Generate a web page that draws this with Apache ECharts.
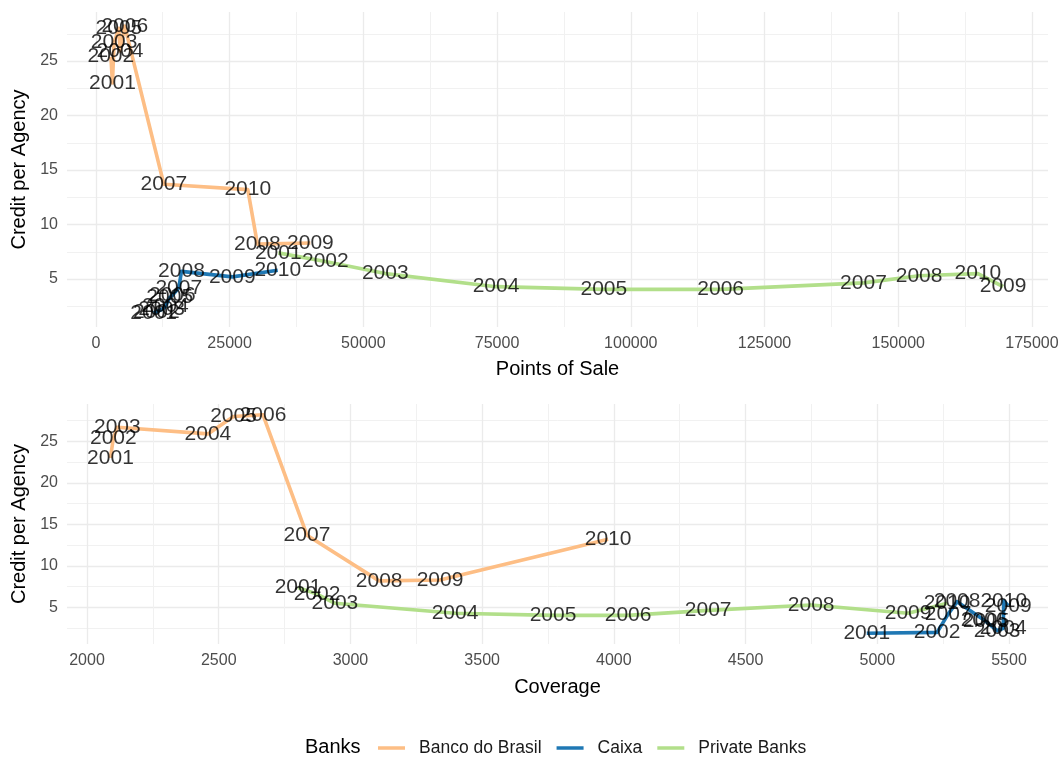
<!DOCTYPE html>
<html>
<head>
<meta charset="utf-8">
<script src="https://cdn.jsdelivr.net/npm/echarts@6/dist/echarts.min.js"></script>
<style>
  html, body { margin: 0; padding: 0; background: #ffffff; }
  #chart { width: 1063px; height: 762px; }
</style>
</head>
<body>
<div id="chart"></div>
<script>
// Yearly observations per bank group
const years = [2001, 2002, 2003, 2004, 2005, 2006, 2007, 2008, 2009, 2010];

const bbPoints   = [3100, 2800, 3400, 4500, 4300, 5400, 12700, 30200, 40100, 28400];
const bbCoverage = [2089, 2100, 2115, 2459, 2556, 2668, 2835, 3109, 3340, 3978];
const bbCredit   = [23.0, 25.4, 26.7, 25.9, 28.0, 28.2, 13.7, 8.2, 8.3, 13.2];

const caixaPoints   = [10800, 11300, 12300, 13000, 13800, 14300, 15500, 16000, 25500, 34000];
const caixaCoverage = [4960, 5227, 5455, 5478, 5413, 5405, 5269, 5303, 5497, 5480];
const caixaCredit   = [1.9, 2.0, 2.2, 2.5, 3.3, 3.5, 4.2, 5.7, 5.2, 5.8];

const privPoints   = [34100, 42900, 54100, 74800, 94960, 116800, 143500, 153900, 169600, 164900];
const privCoverage = [2801, 2873, 2941, 3397, 3769, 4054, 4358, 4749, 5117, 5265];
const privCredit   = [7.4, 6.6, 5.5, 4.3, 4.05, 4.05, 4.65, 5.3, 4.3, 5.5];

// Axis ticks
const pointsTicks      = [0, 25000, 50000, 75000, 100000, 125000, 150000, 175000];
const pointsMinorTicks = [12500, 37500, 62500, 87500, 112500, 137500, 162500];
const coverageTicks      = [2000, 2500, 3000, 3500, 4000, 4500, 5000, 5500];
const coverageMinorTicks = [2250, 2750, 3250, 3750, 4250, 4750, 5250];
const creditTicks      = [5, 10, 15, 20, 25];
const creditMinorTicks = [2.5, 7.5, 12.5, 17.5, 22.5, 27.5];

const bankNames = ['Banco do Brasil', 'Caixa', 'Private Banks'];
const bankColors = ['#FDBE85', '#1F78B4', '#B2DF8A'];

const FONT = 'Liberation Sans, Arial, sans-serif';

// connect observations in order of the x variable
function lineData(xs, ys) {
  return xs.map((x, i) => [x, ys[i]]).sort((a, b) => a[0] - b[0]);
}
function labelData(xs, ys) {
  return xs.map((x, i) => [x, ys[i], years[i]]);
}

const panels = [
  { x: [bbPoints, caixaPoints, privPoints], axis: 0 },
  { x: [bbCoverage, caixaCoverage, privCoverage], axis: 2 }
];
const credits = [bbCredit, caixaCredit, privCredit];

const series = [];
panels.forEach(p => {
  for (let k = 0; k < 3; k++) {
    series.push({
      type: 'line',
      name: bankNames[k],
      xAxisIndex: p.axis,
      yAxisIndex: p.axis,
      data: lineData(p.x[k], credits[k]),
      showSymbol: false,
      symbol: 'none',
      color: bankColors[k],
      lineStyle: { width: 3.6, color: bankColors[k], cap: 'butt', join: 'round' },
      z: 2,
      silent: true,
      animation: false
    });
  }
});
panels.forEach(p => {
  for (let k = 0; k < 3; k++) {
    series.push({
      type: 'scatter',
      name: bankNames[k] + ' years',
      xAxisIndex: p.axis,
      yAxisIndex: p.axis,
      data: labelData(p.x[k], credits[k]),
      symbolSize: 1,
      itemStyle: { color: 'rgba(0,0,0,0)' },
      label: {
        show: true,
        position: 'inside',
        formatter: params => String(params.value[2]),
        color: '#000000',
        fontSize: 21,
        fontFamily: FONT
      },
      z: 10,
      silent: true,
      animation: false
    });
  }
});

const plainNumber = v => String(v);

function mainX(grid, min, max, ticks, name, gap) {
  return {
    type: 'value', gridIndex: grid, min: min, max: max, position: 'bottom',
    name: name, nameLocation: 'middle', nameGap: gap,
    nameTextStyle: { fontSize: 20, color: '#000000', fontFamily: FONT },
    axisLine: { show: false },
    axisTick: { show: false, customValues: ticks },
    axisLabel: { customValues: ticks, formatter: plainNumber, color: '#4D4D4D', fontSize: 16, fontFamily: FONT, margin: 9 },
    splitLine: { show: true, lineStyle: { color: '#EBEBEB', width: 1.3 } }
  };
}
function minorX(grid, min, max, ticks) {
  return {
    type: 'value', gridIndex: grid, min: min, max: max, position: 'bottom',
    axisLine: { show: false },
    axisTick: { show: false, customValues: ticks },
    axisLabel: { show: false, customValues: ticks },
    splitLine: { show: true, lineStyle: { color: '#F1F1F1', width: 1 } }
  };
}
function mainY(grid) {
  return {
    type: 'value', gridIndex: grid, min: 0.6, max: 29.5, position: 'left',
    name: 'Credit per Agency', nameLocation: 'middle', nameGap: 34,
    nameTextStyle: { fontSize: 20, color: '#000000', fontFamily: FONT },
    axisLine: { show: false },
    axisTick: { show: false, customValues: creditTicks },
    axisLabel: { customValues: creditTicks, formatter: plainNumber, color: '#4D4D4D', fontSize: 16, fontFamily: FONT, margin: 9 },
    splitLine: { show: true, lineStyle: { color: '#EBEBEB', width: 1.3 } }
  };
}
function minorY(grid) {
  return {
    type: 'value', gridIndex: grid, min: 0.6, max: 29.5, position: 'left',
    axisLine: { show: false },
    axisTick: { show: false, customValues: creditMinorTicks },
    axisLabel: { show: false, customValues: creditMinorTicks },
    splitLine: { show: true, lineStyle: { color: '#F1F1F1', width: 1 } }
  };
}

const option = {
  backgroundColor: '#ffffff',
  animation: false,
  textStyle: { fontFamily: FONT },
  grid: [
    { left: 67, right: 15, top: 12, bottom: 435 },
    { left: 67, right: 15, top: 404, bottom: 118 }
  ],
  xAxis: [
    mainX(0, -5400, 178000, pointsTicks, 'Points of Sale', 32),
    minorX(0, -5400, 178000, pointsMinorTicks),
    mainX(1, 1924, 5648, coverageTicks, 'Coverage', 33),
    minorX(1, 1924, 5648, coverageMinorTicks)
  ],
  yAxis: [mainY(0), minorY(0), mainY(1), minorY(1)],
  legend: {
    data: bankNames,
    left: 378,
    top: 739,
    padding: 0,
    itemWidth: 27,
    itemHeight: 3.5,
    itemGap: 15,
    icon: 'rect',
    selectedMode: false,
    textStyle: { fontSize: 17.5, color: '#1A1A1A', fontFamily: FONT, padding: [0, 0, 0, 9] }
  },
  graphic: [{
    type: 'text',
    left: 305,
    top: 737,
    style: { text: 'Banks', fontSize: 20, fill: '#000000', fontFamily: FONT }
  }],
  series: series
};

const chart = echarts.init(document.getElementById('chart'), null, { renderer: 'canvas' });
chart.setOption(option);
</script>
</body>
</html>
